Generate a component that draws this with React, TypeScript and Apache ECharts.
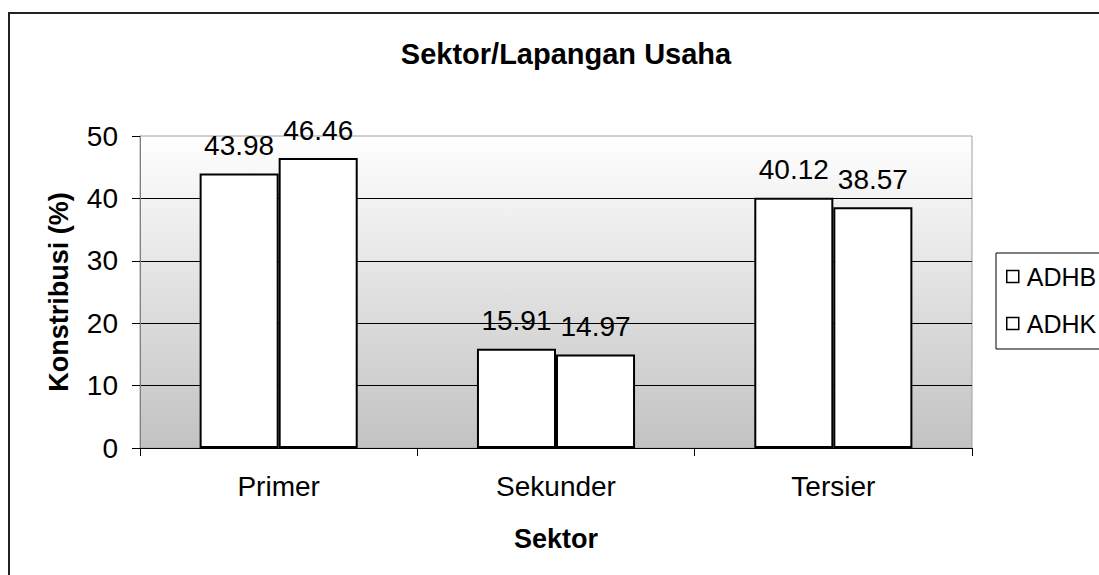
import React, { useEffect, useRef } from "react";
import * as echarts from "echarts";

const categories = ["Primer", "Sekunder", "Tersier"];
const adhb = [43.98, 15.91, 40.12];
const adhk = [46.46, 14.97, 38.57];
const seriesNames = ["ADHB", "ADHK"];
const titleText = "Sektor/Lapangan Usaha";
const xName = "Sektor";
const yName = "Konstribusi (%)";

const FONT = "'Liberation Sans', Arial, sans-serif";

export default function App() {
  const ref = useRef<HTMLDivElement>(null);
  useEffect(() => {
    if (!ref.current) return;
    const chart = echarts.init(ref.current, undefined, { renderer: "svg" });
    const labelCfg = {
      show: true,
      position: "top" as const,
      distance: 14,
      color: "#000",
      fontSize: 28,
      fontFamily: FONT,
    };
    const barStyle = { color: "#fff", borderColor: "#000", borderWidth: 2 };
    chart.setOption({
      animation: false,
      backgroundColor: "#fff",
      textStyle: { fontFamily: FONT },
      title: {
        text: titleText,
        left: 561,
        textAlign: "center",
        top: 34,
        textStyle: { fontSize: 29, fontWeight: "bold", color: "#000", fontFamily: FONT },
      },
      legend: {
        orient: "vertical",
        left: 996,
        top: 253,
        padding: [11, 10, 13, 10],
        itemGap: 22,
        itemWidth: 12,
        itemHeight: 12,
        borderColor: "#000",
        borderWidth: 1,
        icon: "rect",
        data: seriesNames,
        itemStyle: { color: "#fff", borderColor: "#000", borderWidth: 1.5 },
        textStyle: { fontSize: 25, color: "#000", fontFamily: FONT, padding: [0, 0, 0, 3] },
      },
      grid: {
        left: 140,
        right: 127,
        top: 136,
        bottom: 127,
        show: true,
        borderColor: "#a0a0a0",
        borderWidth: 1,
        backgroundColor: {
          type: "linear",
          x: 0,
          y: 0,
          x2: 0,
          y2: 1,
          colorStops: [
            { offset: 0, color: "#ffffff" },
            { offset: 1, color: "#c2c2c2" },
          ],
        },
      },
      xAxis: {
        type: "category",
        data: categories,
        name: xName,
        nameLocation: "middle",
        nameGap: 77,
        nameTextStyle: { fontSize: 27, fontWeight: "bold", color: "#000", fontFamily: FONT },
        axisLine: { show: true, lineStyle: { color: "#000", width: 1 } },
        axisTick: { show: true, length: 8, lineStyle: { color: "#000" } },
        axisLabel: { fontSize: 28, color: "#000", margin: 24, fontFamily: FONT },
      },
      yAxis: {
        type: "value",
        min: 0,
        max: 50,
        interval: 10,
        name: yName,
        nameLocation: "middle",
        nameGap: 68,
        nameRotate: 90,
        nameTextStyle: { fontSize: 27, fontWeight: "bold", color: "#000", fontFamily: FONT },
        axisLine: { show: true, lineStyle: { color: "#808080", width: 1 } },
        axisTick: { show: true, length: 8, lineStyle: { color: "#000" } },
        axisLabel: { fontSize: 28, color: "#000", margin: 22, fontFamily: FONT },
        splitLine: { show: true, showMaxLine: false, lineStyle: { color: "#000", width: 1 } },
      },
      graphic: [
        {
          type: "rect",
          shape: { x: 9, y: 13, width: 1300, height: 800 },
          style: { fill: "none", stroke: "#222", lineWidth: 2 },
          silent: true,
        },
      ],
      series: [
        {
          name: seriesNames[0],
          type: "bar",
          data: adhb,
          barGap: "0%",
          barCategoryGap: "43%",
          itemStyle: barStyle,
          label: labelCfg,
        },
        {
          name: seriesNames[1],
          type: "bar",
          data: adhk,
          barGap: "0%",
          barCategoryGap: "43%",
          itemStyle: barStyle,
          label: labelCfg,
        },
      ],
    });
    return () => chart.dispose();
  }, []);
  return (
    <div
      ref={ref}
      style={{ position: "fixed", left: 0, top: 0, width: 1099, height: 575 }}
    />
  );
}
